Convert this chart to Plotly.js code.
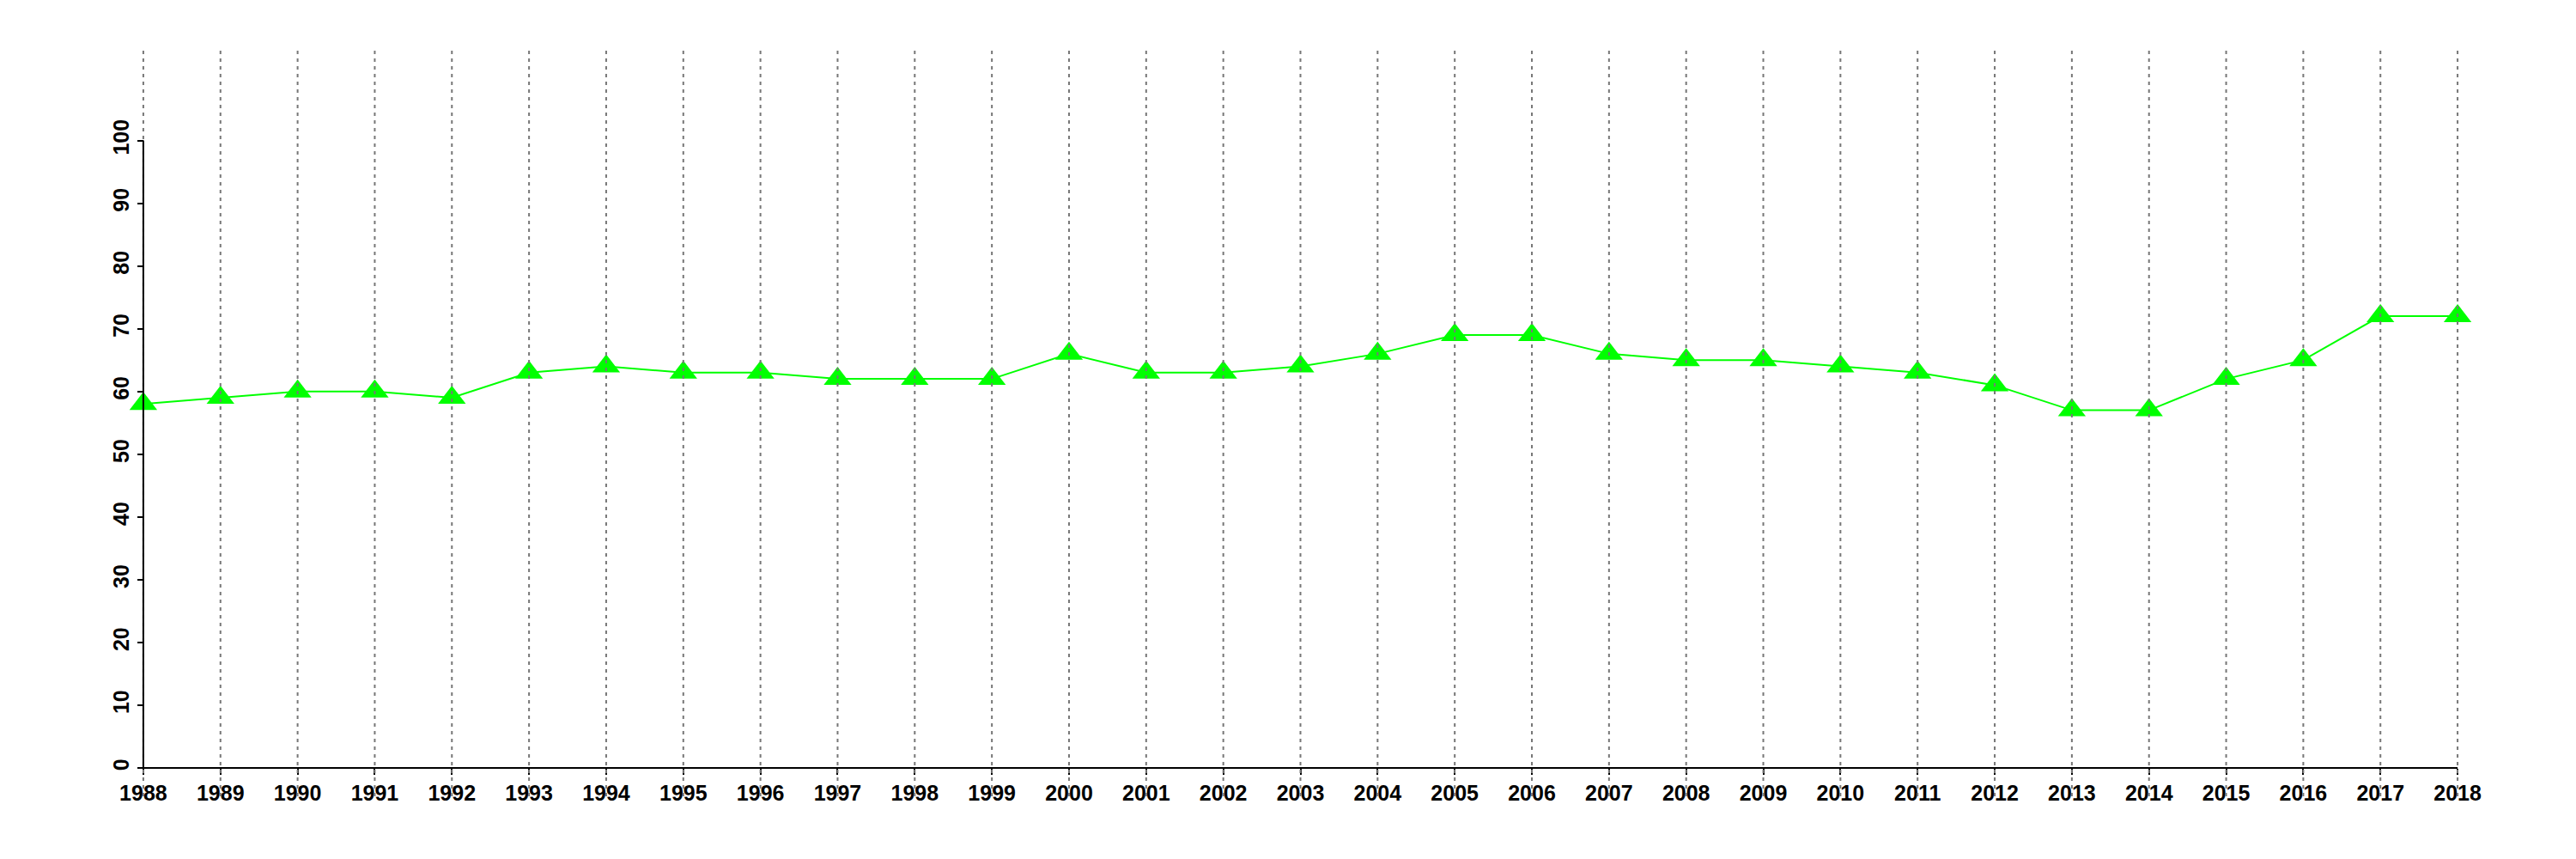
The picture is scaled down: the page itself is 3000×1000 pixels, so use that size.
<!DOCTYPE html>
<html>
<head>
<meta charset="utf-8">
<script src="https://cdn.plot.ly/plotly-3.0.1.min.js"></script>
<style>html,body{margin:0;padding:0;background:#fff;}#chart{width:3000px;height:1000px;}</style>
</head>
<body>
<div id="chart"></div>
<script>
const years = [1988,1989,1990,1991,1992,1993,1994,1995,1996,1997,1998,1999,2000,2001,2002,2003,2004,2005,2006,2007,2008,2009,2010,2011,2012,2013,2014,2015,2016,2017,2018];
const values = [58,59,60,60,59,63,64,63,63,62,62,62,66,63,63,64,66,69,69,66,65,65,64,63,61,57,57,62,65,72,72];
const yTicks = [0,10,20,30,40,50,60,70,80,90,100];
const xTickLabels = years.map(String);
const yTickLabels = yTicks.map(String);

const tickFont = {family: '"Liberation Sans", Arial, Helvetica, sans-serif', size: 25, color: '#000', weight: 'bold'};

const W = 3000, H = 1000;
const mL = 122, mR = 93, mT = 59, mB = 73;
const plotW = W - mL - mR, plotH = H - mT - mB;
const xRange = [years[0] - 0.5, years[years.length - 1] + 0.5];
const pxPerUnit = 7.305;
const yZeroOffset = 33;
const yRange = [-yZeroOffset / pxPerUnit, (plotH - yZeroOffset) / pxPerUnit];

const yAxisPos = (years[0] - xRange[0]) / (xRange[1] - xRange[0]);
const xAxisPos = (0 - yRange[0]) / (yRange[1] - yRange[0]);

const shapes = [];
years.forEach(yr => {
  shapes.push({type: 'line', xref: 'x', yref: 'paper', x0: yr, x1: yr, y0: 0, y1: 1,
    line: {color: '#777777', width: 2, dash: '4px,5px'}, layer: 'above'});
});
shapes.push({type: 'line', xref: 'x', yref: 'y', x0: years[0], x1: years[years.length-1], y0: yTicks[0], y1: yTicks[0],
  line: {color: '#000', width: 2}, layer: 'above'});
shapes.push({type: 'line', xref: 'x', yref: 'y', x0: years[0], x1: years[0], y0: yTicks[0], y1: yTicks[yTicks.length-1],
  line: {color: '#000', width: 2}, layer: 'above'});

const trace = {
  x: years, y: values, type: 'scatter', mode: 'lines+markers',
  line: {color: '#00ff00', width: 2},
  marker: {symbol: 'triangle-up', size: 28, color: '#00ff00'},
  cliponaxis: false, showlegend: false, hoverinfo: 'x+y'
};

const layout = {
  width: W, height: H,
  margin: {l: mL, r: mR, t: mT, b: mB, pad: 0},
  paper_bgcolor: '#fff', plot_bgcolor: '#fff',
  showlegend: false,
  xaxis: {
    range: xRange, anchor: 'free', position: xAxisPos,
    tickmode: 'array', tickvals: years, ticktext: xTickLabels,
    ticks: 'outside', ticklen: 7, tickwidth: 2, tickcolor: '#000',
    showline: false, showgrid: false, zeroline: false,
    tickfont: tickFont, tickangle: 0, ticklabelstandoff: 0
  },
  yaxis: {
    range: yRange, anchor: 'free', position: yAxisPos,
    tickmode: 'array', tickvals: yTicks, ticktext: yTickLabels,
    ticks: 'outside', ticklen: 7, tickwidth: 2, tickcolor: '#000',
    showline: false, showgrid: false, zeroline: false,
    tickfont: tickFont, tickangle: -90
  },
  shapes: shapes
};

Plotly.newPlot('chart', [trace], layout, {staticPlot: true, displayModeBar: false});
</script>
</body>
</html>
